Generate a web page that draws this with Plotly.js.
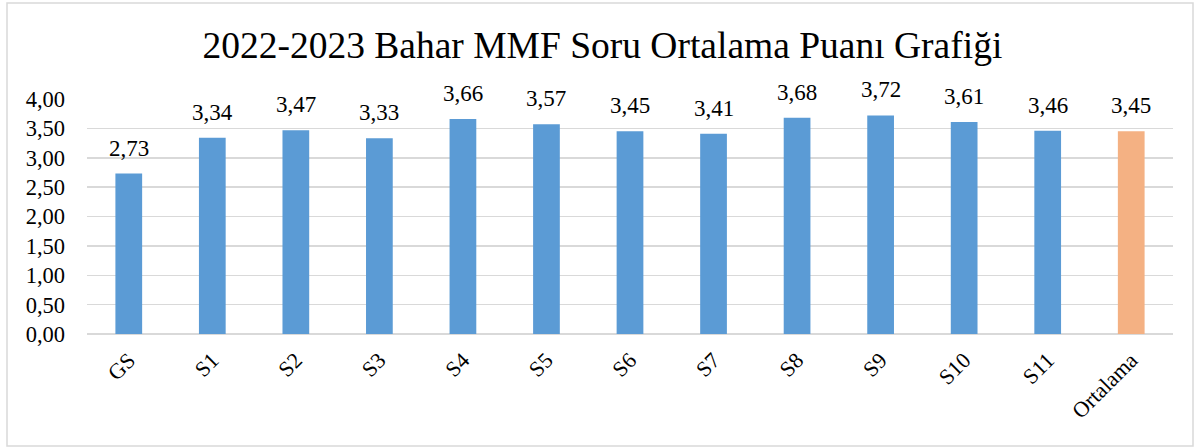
<!DOCTYPE html>
<html>
<head>
<meta charset="utf-8">
<script src="https://cdn.plot.ly/plotly-3.0.1.min.js"></script>
<style>html,body{margin:0;padding:0;background:#fff;}#chart{width:1200px;height:448px;}</style>
</head>
<body>
<div id="chart"></div>
<script>
const categories = ["GS","S1","S2","S3","S4","S5","S6","S7","S8","S9","S10","S11","Ortalama"];
const values = [2.73,3.34,3.47,3.33,3.66,3.57,3.45,3.41,3.68,3.72,3.61,3.46,3.45];
const barColors = ["#5B9BD5","#5B9BD5","#5B9BD5","#5B9BD5","#5B9BD5","#5B9BD5","#5B9BD5","#5B9BD5","#5B9BD5","#5B9BD5","#5B9BD5","#5B9BD5","#F4B183"];
const yTicks = [0,0.5,1,1.5,2,2.5,3,3.5,4];
const titleText = "2022-2023 Bahar MMF Soru Ortalama Puanı Grafiği";

const font = "Liberation Serif";
const fmt = v => v.toFixed(2).replace(".", ",");

const trace = {
  type: "bar",
  x: categories,
  y: values,
  marker: {color: barColors, line: {width: 0}},
  hoverinfo: "none"
};
const labels = categories.map((c, i) => ({
  x: c, y: values[i], xref: "x", yref: "y",
  text: fmt(values[i]), showarrow: false,
  xanchor: "center", yanchor: "bottom", yshift: 11,
  font: {family: font, size: 23, color: "#000"}
}));
const layout = {
  width: 1200, height: 448,
  font: {family: font, size: 22, color: "#000"},
  separators: ",.",
  margin: {l: 87, r: 27, t: 99, b: 114},
  paper_bgcolor: "#fff", plot_bgcolor: "#fff",
  bargap: 0.68,
  showlegend: false,
  title: {text: titleText, font: {family: font, size: 37.5, color: "#000"}, x: 0.502, xanchor: "center", y: 0.9, yanchor: "middle"},
  xaxis: {
    tickangle: -45,
    tickfont: {family: font, size: 22, color: "#000"},
    showgrid: false, showline: false, ticks: "", ticklabelstandoff: 8, fixedrange: true
  },
  yaxis: {
    range: [0, 4],
    tickvals: yTicks,
    tickformat: ".2f",
    tickfont: {family: font, size: 22.5, color: "#000"},
    showgrid: true, gridcolor: "#D9D9D9", gridwidth: 1.5,
    zeroline: true, zerolinecolor: "#D9D9D9", zerolinewidth: 1.5,
    showline: false, ticks: "", ticklabelstandoff: 21, fixedrange: true
  },
  annotations: labels,
  shapes: [{
    type: "rect", xref: "paper", yref: "paper",
    x0: -80/1086, x1: 1106/1086, y0: -112/235, y1: (235+96)/235,
    line: {color: "#D9D9D9", width: 1.5}, fillcolor: "rgba(0,0,0,0)", layer: "below"
  }]
};
Plotly.newPlot("chart", [trace], layout, {displayModeBar: false, staticPlot: true});
</script>
</body>
</html>
